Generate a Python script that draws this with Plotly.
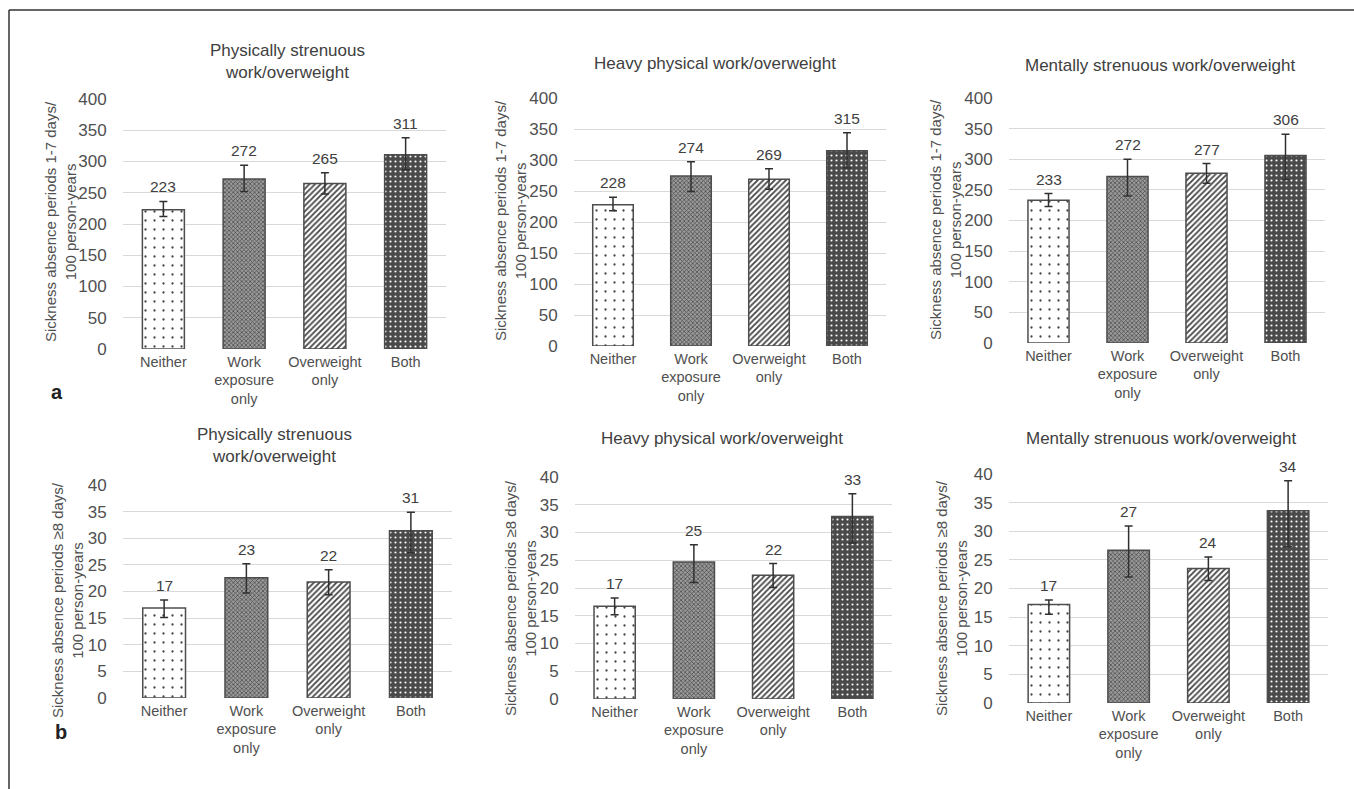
import plotly.graph_objects as go

W, H = 1354, 789

categories = ["Neither", "Work<br>exposure<br>only", "Overweight<br>only", "Both"]

# Panel a: sickness absence periods 1-7 days / 100 person-years
a1_values = [223, 272, 265, 311]
a1_upper = [236, 294, 282, 338]
a1_lower = [212, 252, 248, 287]
a1_labels = [223, 272, 265, 311]

a2_values = [228, 274, 269, 315]
a2_upper = [240, 297, 286, 344]
a2_lower = [218, 249, 253, 287]
a2_labels = [228, 274, 269, 315]

a3_values = [233, 272, 277, 306]
a3_upper = [244, 300, 293, 341]
a3_lower = [223, 240, 261, 267]
a3_labels = [233, 272, 277, 306]

# Panel b: sickness absence periods >=8 days / 100 person-years
b1_values = [16.9, 22.6, 21.8, 31.4]
b1_upper = [18.4, 25.2, 24.1, 34.9]
b1_lower = [15.1, 19.7, 19.4, 27.3]
b1_labels = [17, 23, 22, 31]

b2_values = [16.7, 24.7, 22.3, 32.9]
b2_upper = [18.2, 27.8, 24.4, 37.0]
b2_lower = [15.2, 21.0, 20.1, 28.1]
b2_labels = [17, 25, 22, 33]

b3_values = [17.2, 26.7, 23.5, 33.6]
b3_upper = [18.0, 30.9, 25.5, 38.8]
b3_lower = [15.5, 22.0, 21.4, 27.3]
b3_labels = [17, 27, 24, 34]

titles = [
    "Physically strenuous<br>work/overweight",
    "Heavy physical work/overweight",
    "Mentally strenuous work/overweight",
    "Physically strenuous<br>work/overweight",
    "Heavy physical work/overweight",
    "Mentally strenuous work/overweight",
]
ytitle_a = "Sickness absence periods 1-7 days/<br>100 person-years"
ytitle_b = "Sickness absence periods ≥8 days/<br>100 person-years"
yticks_a = [0, 50, 100, 150, 200, 250, 300, 350, 400]
yticks_b = [0, 5, 10, 15, 20, 25, 30, 35, 40]

panels = [
    (a1_values, a1_upper, a1_lower, a1_labels, yticks_a, ytitle_a),
    (a2_values, a2_upper, a2_lower, a2_labels, yticks_a, ytitle_a),
    (a3_values, a3_upper, a3_lower, a3_labels, yticks_a, ytitle_a),
    (b1_values, b1_upper, b1_lower, b1_labels, yticks_b, ytitle_b),
    (b2_values, b2_upper, b2_lower, b2_labels, yticks_b, ytitle_b),
    (b3_values, b3_upper, b3_lower, b3_labels, yticks_b, ytitle_b),
]

# layout in pixels: plot area (x0, x1, ytop, ybottom)
areas = [
    (123, 446, 99, 349),
    (574, 886, 98, 346),
    (1009, 1325, 98, 343),
    (123, 452, 485, 698),
    (575, 892, 477, 699),
    (1009, 1328, 474, 703),
]
title_pos = [(287, 61), (715, 63), (1160, 65), (274, 445), (722, 438), (1161, 438)]
ytitle_pos = [(61, 222), (511, 220), (946, 220), (67, 600), (520, 598), (951, 598)]

FONT = "Liberation Sans, Arial, sans-serif"
TXT = "#404040"

pat_shape = [".", "x", "/", "."]
pat_bg = ["#ffffff", "#9a9a9a", "#ffffff", "#4a4a4a"]
pat_fg = ["#8a8a8a", "#7a7a7a", "#333333", "#a0a0a0"]
pat_size = [9, 3, 4, 5]
pat_sol = [0.05, 0.4, 0.45, 0.15]


def px(x):
    return x / W


def py(y):
    return 1 - y / H


fig = go.Figure()
annotations = []
layout = {}

for i, (vals, up, lo, labs, yt, ytitle) in enumerate(panels):
    n = "" if i == 0 else str(i + 1)
    xa, ya = "x" + n, "y" + n
    x0, x1, yt0, yb0 = areas[i]
    fig.add_trace(go.Bar(
        x=categories, y=vals, xaxis=xa, yaxis=ya, width=0.52,
        marker=dict(
            color=pat_bg,
            line=dict(color="#4d4d4d", width=1.5),
            pattern=dict(shape=pat_shape, bgcolor=pat_bg, fgcolor=pat_fg, fgopacity=1,
                         size=pat_size, solidity=pat_sol, fillmode="overlay"),
        ),
        error_y=dict(type="data", symmetric=False,
                     array=[u - v for u, v in zip(up, vals)],
                     arrayminus=[v - l for v, l in zip(vals, lo)],
                     color="#303030", thickness=1.5, width=4),
        showlegend=False, hoverinfo="skip",
    ))
    layout["xaxis" + n] = dict(
        domain=[px(x0), px(x1)], anchor=ya, showgrid=False, showline=False,
        zeroline=False, ticks="", automargin=False, ticklabelstandoff=2,
        tickfont=dict(family=FONT, size=14.5, color="#505050"),
    )
    layout["yaxis" + n] = dict(
        domain=[py(yb0), py(yt0)], anchor=xa, range=[0, yt[-1]], tickvals=yt,
        showgrid=True, gridcolor="#d9d9d9", gridwidth=1.2, zeroline=False, showline=False,
        ticks="outside", ticklen=12, tickcolor="rgba(0,0,0,0)", automargin=False,
        tickfont=dict(family=FONT, size=17, color="#505050"),
    )
    for c, u, lab in zip(categories, up, labs):
        annotations.append(dict(
            x=c, y=u, xref=xa, yref=ya, text=str(lab), showarrow=False,
            yanchor="bottom", yshift=4, font=dict(family=FONT, size=15.5, color=TXT),
        ))
    tx, ty = title_pos[i]
    annotations.append(dict(
        x=px(tx), y=py(ty), xref="paper", yref="paper", text=titles[i], showarrow=False,
        xanchor="center", yanchor="middle", font=dict(family=FONT, size=17, color=TXT),
    ))
    yx, yy = ytitle_pos[i]
    annotations.append(dict(
        x=px(yx), y=py(yy), xref="paper", yref="paper", text=ytitle, showarrow=False,
        textangle=-90, xanchor="center", yanchor="middle",
        font=dict(family=FONT, size=15, color="#505050"),
    ))

annotations.append(dict(x=px(49), y=py(392), xref="paper", yref="paper", text="<b>a</b>",
                        showarrow=False, font=dict(family=FONT, size=20, color="#222222")))
annotations.append(dict(x=px(53), y=py(745), xref="paper", yref="paper", text="<b>b</b>",
                        showarrow=False, font=dict(family=FONT, size=20, color="#222222")))

shapes = [
    dict(type="line", xref="paper", yref="paper", x0=px(9), x1=1, y0=py(10), y1=py(10),
         line=dict(color="#333333", width=1.5)),
    dict(type="line", xref="paper", yref="paper", x0=px(9), x1=px(9), y0=py(10), y1=0,
         line=dict(color="#333333", width=1.5)),
]

fig.update_layout(
    width=W, height=H, autosize=False,
    margin=dict(l=0, r=0, t=0, b=0, pad=0, autoexpand=False),
    paper_bgcolor="white", plot_bgcolor="white",
    annotations=annotations, shapes=shapes, bargap=0.48,
    font=dict(family=FONT),
    **layout,
)

post = (
    "document.body.style.margin='0px';"
    "document.body.style.overflow='hidden';"
    "var d=document.getElementById('{plot_id}');"
    "d.style.position='absolute';d.style.top='0px';d.style.left='0px';"
)
fig.write_html("out.html", post_script=post, config={"displayModeBar": False})
